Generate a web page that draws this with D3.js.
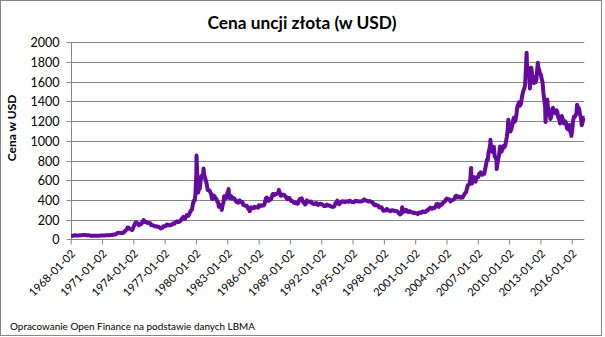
<!DOCTYPE html>
<html><head><meta charset="utf-8">
<script src="https://cdn.jsdelivr.net/npm/d3@7"></script>
<style>body{margin:0;background:#fff}svg{display:block}</style>
</head><body>
<svg id="c" width="605" height="337"></svg>
<script>
const title = "Cena uncji złota (w USD)";
const yTitle = "Cena w USD";
const note = "Opracowanie Open Finance na podstawie danych LBMA";
const yTicks = [0,200,400,600,800,1000,1200,1400,1600,1800,2000];
const xTickLabels = ["1968-01-02","1971-01-02","1974-01-02","1977-01-02","1980-01-02","1983-01-02","1986-01-02","1989-01-02","1992-01-02","1995-01-02","1998-01-02","2001-01-02","2004-01-02","2007-01-02","2010-01-02","2013-01-02","2016-01-02"];
const firstMonth = "1968-01";
// monthly prices (USD/oz), from Jan 1968
const monthlyPrices = [
35.2,35.2,35.2,38,41,41,39.5,39.2,39.5,39.4,39.9,41.1,
42.3,42.6,43.2,43.3,43.4,41.5,41.8,41.3,40.9,40.4,37.4,35.2,
34.9,35,35.1,35.6,35.9,35.4,35.3,35.4,36.2,37.5,37.4,37.4,
37.9,38.7,38.9,39,40.5,40.1,41,42.7,42,42.5,42.9,43.5,
45.8,48.3,48.3,49,54.6,62.1,65.7,67,65.5,64.9,62.9,63.9,
65.1,74.2,84.4,90.5,102,120.1,120.2,106.8,103,100.1,94.8,106.7,
129.2,150.2,168.4,172.2,163.3,154.1,143,154.6,151.8,158.8,181.7,183.9,
176.3,179.6,178.2,170.1,167.3,164.2,165.1,163.2,144.3,142.8,142.8,139.3,
131.6,131,132.6,128.3,128.1,125.7,117.7,109.5,114.1,116.1,130.6,133.7,
132.3,136.3,148.4,149.2,146.6,140.8,143.3,144.8,149.2,158.9,162,160.5,
173.4,178.2,183.7,175.3,176.3,183.7,188.7,206.1,212.4,227.6,206.1,207.8,
227.3,245.7,242.1,239.2,257.6,279.1,294.7,301.1,355.2,392,392.3,455.1,
675.3,665.3,553.6,517.4,513.8,600.7,645,627.2,673.6,661.2,623.5,594.9,
557.4,500,498.8,495.8,479.7,460.6,409.3,410.2,443.6,437.8,413.4,410.1,
384.1,374.3,330.2,350.5,333.9,314.8,339.3,364.1,436,422.7,414.8,444.3,
481,491.4,419.6,432.8,438.4,413,422.7,416.2,411.4,393.6,381.7,388.1,
370.9,386.8,394.3,381.2,377.1,377.7,348.3,347.7,341.1,340.2,341,320.2,
303.9,298.9,304,324.5,316.1,316.8,317.7,330.5,323.5,326,325.4,321.6,
345.4,338.9,345.7,340.4,342.5,342.6,348.7,376.5,418.3,423.5,398.2,391.1,
408.6,401.3,408.6,438.5,460.2,449.6,450.6,461,460.1,464.8,469.6,486.3,
477.1,442.1,443.6,451.6,451.6,451.7,437.5,432.2,412.4,406.7,420.1,418.5,
404.1,388.1,390.2,384.2,371.2,368,375.3,365.4,361.8,366.9,394.2,409.4,
410.1,416.8,393.1,374.3,369.4,352.3,362.5,394.8,389.3,380.7,381.9,378.2,
383.6,363.8,363.3,358.4,356.8,366.7,367.7,356.5,348.7,358.6,359.9,361.7,
354.5,353.9,344.3,338.6,337.2,340.8,352.8,342.9,345.3,344.4,335,334.7,
329,329.3,330.1,342.2,367.2,371.9,392,379.8,355.4,364.2,373.8,383.3,
387,382,384,377.3,381.4,385.6,385.5,380.4,391.6,389.8,384.4,379.3,
378.6,376.5,382.1,391,385.3,387.6,386.2,383.8,383.1,383.1,386.1,387.4,
400,405,396,392.9,391.9,385.3,383.5,387.5,383.1,381.1,377.9,369.2,
354.1,346.6,351.8,344.5,343.8,340.8,324.1,324,322.8,324.9,306,288.7,
289.2,297.5,295.9,308.4,299.1,292.3,292.9,284.1,289,295.9,294.1,291.6,
287.3,287.3,285.9,282.6,276.4,261.3,256.1,256.7,264.7,310.7,293.2,283.1,
284.6,300,286.4,280.1,275.3,285.7,281.6,274.5,273.7,270,266,271.5,
265.5,261.9,263,260.5,272.4,270.2,267.5,272.4,283.4,283.1,276.2,275.9,
281.7,295.5,294,302.7,314.5,321.2,313.3,310.3,319.2,316.6,319.1,333,
356.9,359,340.6,328.2,355.7,356.4,351,359.8,378.9,378.9,389.9,407.6,
413.8,404.9,406.7,403.3,383.8,392.4,398.1,400.5,405.3,420.5,439.4,442.1,
424,423.4,434.2,429.2,421.9,430.7,424.5,437.9,456,469.9,476.7,509.8,
549.9,555,557.1,610.6,676.5,596.2,633.7,632.6,598.2,585.8,627.8,629.8,
631.2,664.8,655.5,679.4,667.3,655.7,665.5,665.4,712.7,754.6,806.3,803.2,
889.6,922.3,968.4,909.7,888.7,889.5,939.8,839,829.9,806.6,760.9,816.1,
858.7,943,924.3,890.2,928.6,945.7,934.2,949.5,996.6,1043.2,1127,1134.7,
1117.9,1095.4,1113.3,1148.7,1205.4,1232.9,1193,1215.8,1271,1342,1369.9,1390.6,
1356.4,1372.7,1424,1473.8,1510.4,1528.7,1572.8,1755.8,1771.9,1665.2,1738.9,1652.3,
1656.1,1742.6,1673.8,1650.1,1585.5,1596.7,1593.9,1626,1744.5,1746.6,1721.6,1684.8,
1671.9,1627.6,1593.1,1487.9,1414,1343.4,1285.5,1351.7,1348.6,1316.6,1275.8,1221.5,
1244.3,1299.6,1336.1,1299,1287.5,1279.1,1310.6,1295.1,1236.6,1222.5,1176.3,1202.3,
1251.8,1227.1,1178.6,1198.9,1198.6,1181.5,1128.3,1117.9,1124.8,1159.3,1086.4,1068.3,
1097.9,1199.5,1245.1,1242.3,1260.9,1276.4,1336.7,1340.2,1326.6,1266.6,1238.4,1157.4,
1192.1,1234.2,1231.4
];
// daily extremes visible in the picture
const extremeDates = ["1974-12-30","1980-01-21","1980-03-18","1980-09-22","1982-06-21","1983-02-15","1985-02-25","1987-12-14","1999-07-20","1999-10-05","2001-04-02","2006-05-12","2006-06-14","2008-03-17","2008-10-24","2009-12-02","2011-09-05","2011-12-29","2012-10-04","2013-06-28","2013-08-28","2015-12-17","2016-07-06"];
const extremeValues = [195,850,474,720,297,510,285,502,253,325,256,725,567,1011,713,1213,1895,1531,1792,1192,1419,1049,1366];
const lastDate = "2017-03-15";

const parse = d3.timeParse("%Y-%m-%d");
const start = d3.timeParse("%Y-%m")(firstMonth);
let pts = monthlyPrices.map((v,i)=>({d:d3.timeDay.offset(d3.timeMonth.offset(start,i),14), v}));
extremeDates.forEach((s,i)=>pts.push({d:parse(s), v:extremeValues[i]}));
pts.sort((a,b)=>a.d-b.d);

const svg = d3.select("#c");
const font = "Lato, 'Open Sans', sans-serif";
const L = 70.7, R = 584.3, T = 42.3, B = 239.3;
const x = d3.scaleTime().domain([parse(xTickLabels[0]), parse(lastDate)]).range([L, R]);
const y = d3.scaleLinear().domain([0, 2000]).range([B, T]);

svg.append("rect").attr("x",0.5).attr("y",0.5).attr("width",601).attr("height",335)
  .attr("fill","#fff").attr("stroke","#868686");

// gridlines
svg.append("g").selectAll("line").data(yTicks.filter(t=>t>0)).join("line")
  .attr("x1",L).attr("x2",R).attr("y1",d=>Math.round(y(d))+0.5).attr("y2",d=>Math.round(y(d))+0.5)
  .attr("stroke","#868686").attr("stroke-width",1);

// y axis
const ya = svg.append("g").attr("transform",`translate(${Math.round(L)+0.5},0)`)
  .call(d3.axisLeft(y).tickValues(yTicks).tickSize(5).tickPadding(7).tickFormat(d3.format("d")));
ya.select(".domain").attr("stroke","#868686").attr("d",`M0,${T}V${B}`);
ya.selectAll(".tick line").attr("stroke","#868686");
ya.selectAll(".tick").attr("transform",d=>`translate(0,${Math.round(y(d))+0.5})`);
ya.selectAll("text").attr("font-family",font).attr("font-size",12.5).attr("fill","#000").attr("dy","0.35em");

// x axis
const xa = svg.append("g").attr("transform",`translate(0,${Math.round(B)+0.5})`)
  .call(d3.axisBottom(x).tickValues(xTickLabels.map(parse)).tickSize(5).tickFormat(d3.timeFormat("%Y-%m-%d")));
xa.select(".domain").attr("stroke","#868686").attr("d",`M${L},0H${R}`);
xa.selectAll(".tick line").attr("stroke","#868686");
xa.selectAll("text").attr("font-family",font).attr("font-size",11.2).attr("fill","#000")
  .attr("text-anchor","end").attr("dy",0).attr("y",0)
  .attr("transform","translate(5,15) rotate(-45)");

// line
svg.append("path").datum(pts)
  .attr("fill","none").attr("stroke","#650a9e").attr("stroke-width",4).attr("stroke-linejoin","round")
  .attr("d", d3.line().x(d=>x(d.d)).y(d=>y(d.v)));

svg.append("text").attr("x",302).attr("y",29).attr("text-anchor","middle")
  .attr("font-family",font).attr("font-weight","bold").attr("font-size",17.3).text(title);
svg.append("text").attr("transform","translate(16,128) rotate(-90)").attr("text-anchor","middle")
  .attr("font-family",font).attr("font-weight","bold").attr("font-size",12).text(yTitle);
svg.append("text").attr("x",10).attr("y",330)
  .attr("font-family",font).attr("font-size",10.2).attr("textLength",245).attr("lengthAdjust","spacingAndGlyphs").text(note);
</script>
</body></html>
